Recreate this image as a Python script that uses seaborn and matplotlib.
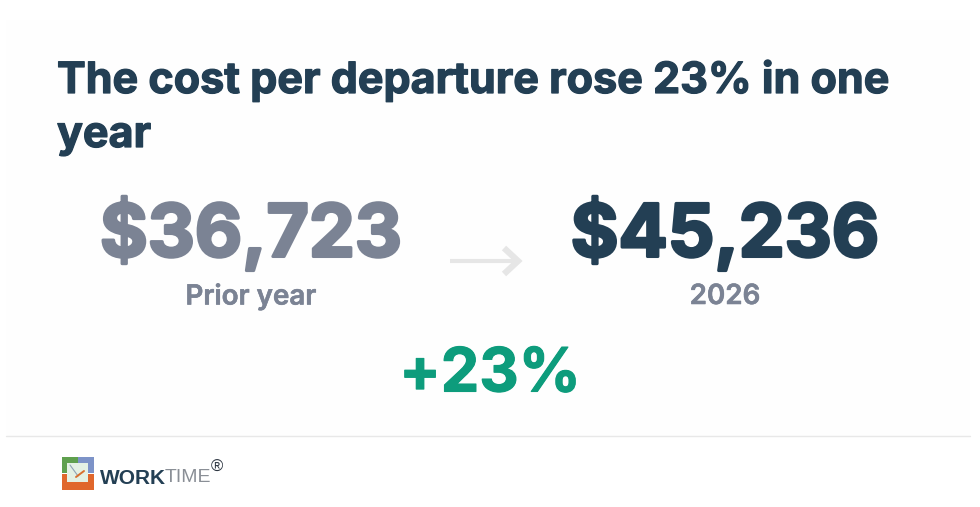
#!/usr/bin/env python3
"""Single KPI card: cost per departure, prior year vs 2026"""

import matplotlib
matplotlib.use("Agg")
import matplotlib.pyplot as plt
import matplotlib.patheffects as pe
import seaborn as sns
from matplotlib.patches import Rectangle

# Values shown on the card
title_lines = ["The cost per departure rose 23% in one", "year"]
period_labels = ["Prior year", "2026"]
period_values = [36723, 45236]
change_label = "+23%"

NAVY = "#233f54"
GREY = "#7b8394"
GREEN = "#0d9c7c"
ARROW = "#e6e6e6"

sns.set_theme(style="white")
plt.rcParams['font.family'] = ['Inter', 'DejaVu Sans']


def heavy(width, col):
    # thicken the installed bold a little, the card uses a heavier cut
    return [pe.withStroke(linewidth=width, foreground=col)]


fig = plt.figure(figsize=(9.8, 5.07), dpi=100, facecolor="white")
ax = fig.add_axes([0, 0, 1, 1])
ax.set_xlim(0, 980)
ax.set_ylim(507, 0)
ax.axis("off")

# Faint card background and footer rule
ax.add_patch(Rectangle((6, 20), 964, 416, color="#fefefe", lw=0))
ax.plot([6, 970], [436, 436], color="#e8e8e8", lw=1)

# Title
for line, y in zip(title_lines, [76, 131]):
    ax.text(57, y, line, fontsize=31, fontweight="bold", color=NAVY,
            ha="left", va="center_baseline", path_effects=heavy(0.9, NAVY))

# Big numbers with captions
centers = [251, 725]
colors = [GREY, NAVY]
for cx, value, label, col in zip(centers, period_values, period_labels, colors):
    ax.text(cx, 227, f"${value:,}", fontsize=52.5, fontweight="bold", color=col,
            ha="center", va="center_baseline", path_effects=heavy(2.2, col))
    ax.text(cx, 294, label, fontsize=20, fontweight="semibold", color=GREY,
            ha="center", va="center_baseline", path_effects=heavy(0.4, GREY))

# Arrow between the two values
ax.plot([450, 517], [261, 261], color=ARROW, lw=3, solid_capstyle="butt")
ax.plot([504, 518, 504], [248, 261, 274], color=ARROW, lw=4.5,
        solid_joinstyle="miter", solid_capstyle="butt")

ax.text(490, 369, change_label, fontsize=44, fontweight="bold", color=GREEN,
        ha="center", va="center_baseline", path_effects=heavy(0.8, GREEN))

# Logo
ax.add_patch(Rectangle((62, 457), 16, 16, color="#5fa04e", lw=0))
ax.add_patch(Rectangle((78, 457), 16, 16, color="#7d93c8", lw=0))
ax.add_patch(Rectangle((62, 474), 32, 16, color="#e0672c", lw=0))
ax.add_patch(Rectangle((67, 463), 21, 19, color="#e4f1e4", lw=0))
ax.plot([70, 78], [465, 476], color="#8fa3b5", lw=0.8)
ax.plot([76, 84], [477, 471], color="#d9702f", lw=1.4)

logo_font = ['Liberation Sans', 'DejaVu Sans']
ax.text(100, 476, "WORK", fontsize=15, fontweight="bold", color=NAVY, family=logo_font,
        ha="left", va="center_baseline")
ax.text(165, 476, "TIME", fontsize=14, color="#8a8f96", family=logo_font,
        ha="left", va="center_baseline")
ax.text(211, 466, "®", fontsize=12, color="#2b3440", family=logo_font,
        ha="left", va="center_baseline")

sns.despine(ax=ax, left=True, bottom=True)
fig.savefig("out.png", dpi=100, facecolor="white")
